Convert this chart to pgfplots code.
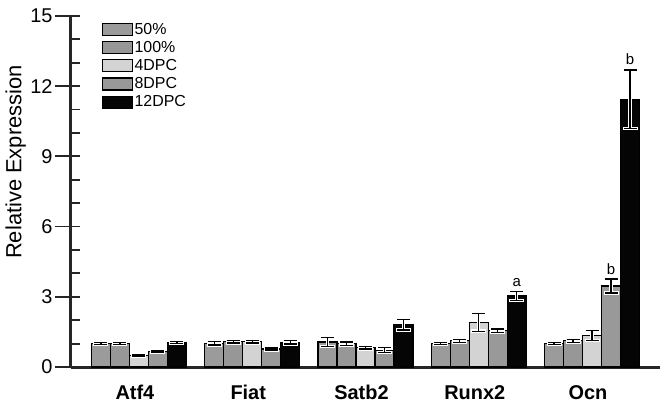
\documentclass[border=0pt]{standalone}
\usepackage{pgfplots}
\usepackage{pgfplotstable}
\pgfplotsset{compat=1.18}
\usepackage{fontspec}
\setmainfont{Liberation Sans}
\definecolor{cA}{HTML}{9B9B9B}
\definecolor{cB}{HTML}{979797}
\definecolor{cC}{HTML}{D3D3D3}
\definecolor{cD}{HTML}{999999}
\definecolor{cE}{HTML}{050505}
\newcommand\legfont{\fontsize{16}{18}\selectfont}
\newcommand\xfont{\fontsize{20}{24}\selectfont\bfseries}
\newcommand\yfont{\fontsize{20}{22}\selectfont}
\newcommand\labfont{\fontsize{22}{26}\selectfont}
\newcommand\sigfont{\fontsize{15}{18}\selectfont}
\pgfplotstableread{
x y e
0 1.01 0.04
1 1.01 0.07
2 1.07 0.20
3 1.01 0.05
4 1.01 0.05
}\tA
\pgfplotstableread{
x y e
0 1.01 0.04
1 1.08 0.06
2 1.00 0.07
3 1.12 0.06
4 1.12 0.06
}\tB
\pgfplotstableread{
x y e
0 0.48 0.03
1 1.08 0.05
2 0.82 0.05
3 1.91 0.38
4 1.34 0.21
}\tC
\pgfplotstableread{
x y e
0 0.65 0.03
1 0.77 0.04
2 0.72 0.10
3 1.55 0.08
4 3.46 0.30
}\tD
\pgfplotstableread{
x y e
0 1.05 0.04
1 1.05 0.07
2 1.80 0.22
3 3.03 0.20
4 11.44 1.25
}\tE
\pgfplotsset{
  halo/.style={forget plot, draw=none, fill=none, bar shift=#1,
    error bars/y dir=both, error bars/y explicit,
    error bars/error bar style={draw=white, line width=3.2bp},
    error bars/error mark options={rotate=90, draw=white, mark size=7.5bp, line width=3.4bp},
  },
  core/.style={forget plot, draw=none, fill=none, bar shift=#1,
    error bars/y dir=both, error bars/y explicit,
    error bars/error bar style={draw=black, line width=1.2bp},
    error bars/error mark options={rotate=90, draw=black, mark size=6.5bp, line width=1.3bp},
  },
}
\begin{document}
\begin{tikzpicture}
\begin{axis}[
  scale only axis, width=589bp, height=351bp,
  ybar=0pt, bar width=19bp,
  xmin=-0.6, xmax=4.6, ymin=0, ymax=15,
  axis x line*=bottom, axis y line*=left,
  axis line style={line width=3bp, black!85, -},
  xtick={0,1,2,3,4}, xticklabels={Atf4,Fiat,Satb2,Runx2,Ocn},
  x tick style={draw=none},
  xticklabel style={font=\xfont, yshift=1bp, xshift=-4bp},
  ytick={0,3,6,9,12,15},
  tick align=outside, major tick length=16bp,
  y tick style={line width=1.8bp, black!85},
  extra y ticks={0,1,...,15}, extra y tick labels={},
  extra y tick style={tick align=inside, major tick length=9bp, tick style={line width=1.6bp, black!85}},
  yticklabel style={font=\yfont, xshift=1bp},
  /pgf/number format/assume math mode=true,
  ylabel={Relative Expression},
  ylabel style={font=\labfont, at={(axis description cs:-0.094,0.584)}, anchor=center},
  legend style={at={(axis description cs:0.052,0.985)}, anchor=north west, draw=none, fill=none,
    row sep=2.6bp, inner sep=0pt,
    nodes={inner sep=1.5bp, font=\legfont}},
  legend cell align=left,
  legend image code/.code={\draw[#1, line width=1.2bp] (0bp,-6bp) rectangle (30bp,6bp);},
]
\addplot[fill=cA, draw=black, line width=1.2bp, bar shift=-38bp] table[x=x,y=y] {\tA};
\addplot[fill=cB, draw=black, line width=1.2bp, bar shift=-19bp] table[x=x,y=y] {\tB};
\addplot[fill=cC, draw=black, line width=1.2bp, bar shift=0bp] table[x=x,y=y] {\tC};
\addplot[fill=cD, draw=black, line width=1.2bp, bar shift=19bp] table[x=x,y=y] {\tD};
\addplot[fill=cE, draw=black, line width=1.2bp, bar shift=38bp] table[x=x,y=y] {\tE};
\legend{\legfont 50\%,\legfont 100\%,\legfont 4DPC,\legfont 8DPC,\legfont 12DPC}
\addplot[halo=-38bp] table[x=x,y=y,y error=e] {\tA};
\addplot[core=-38bp] table[x=x,y=y,y error=e] {\tA};
\addplot[halo=-19bp] table[x=x,y=y,y error=e] {\tB};
\addplot[core=-19bp] table[x=x,y=y,y error=e] {\tB};
\addplot[halo=0bp] table[x=x,y=y,y error=e] {\tC};
\addplot[core=0bp] table[x=x,y=y,y error=e] {\tC};
\addplot[halo=19bp] table[x=x,y=y,y error=e] {\tD};
\addplot[core=19bp] table[x=x,y=y,y error=e] {\tD};
\addplot[halo=38bp] table[x=x,y=y,y error=e] {\tE};
\addplot[core=38bp] table[x=x,y=y,y error=e] {\tE};
\node[font=\sigfont] at (axis cs:3.335,3.6) {a};
\node[font=\sigfont] at (axis cs:4.168,4.2) {b};
\node[font=\sigfont] at (axis cs:4.335,13.15) {b};
\coordinate (ll) at (rel axis cs:0,0);
\coordinate (ur) at (rel axis cs:1,1);
\end{axis}
\pgfresetboundingbox
\path ([shift={(-71bp,-37bp)}]ll) rectangle ([shift={(5bp,16bp)}]ur);
\end{tikzpicture}
\end{document}
